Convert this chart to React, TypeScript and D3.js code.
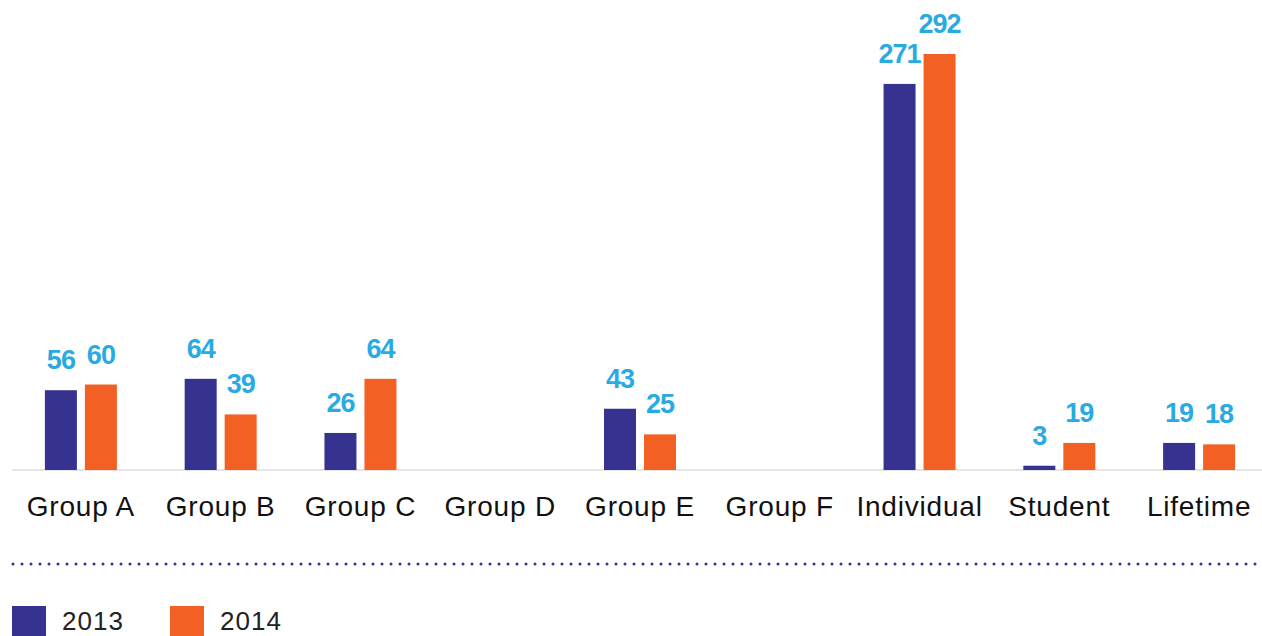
import React from 'react';
import * as d3 from 'd3';

const categories = ['Group A', 'Group B', 'Group C', 'Group D', 'Group E', 'Group F', 'Individual', 'Student', 'Lifetime'];
const years = ['2013', '2014'];
const values2013: (number | null)[] = [56, 64, 26, null, 43, null, 271, 3, 19];
const values2014: (number | null)[] = [60, 39, 64, null, 25, null, 292, 19, 18];

const colors = ['#35338f', '#f26024'];
const labelColor = '#29abe2';

const width = 1262;
const height = 636;
const baseY = 470;

const App = () => {
  const x = d3.scaleBand<string>().domain(categories).range([11, 1269]);
  const xInner = d3.scaleBand<string>()
    .domain(years)
    .range([x.bandwidth() / 2 - 36, x.bandwidth() / 2 + 36])
    .paddingInner(0.2);
  const y = d3.scaleLinear().domain([0, 292]).range([baseY, 54]);

  const series = [values2013, values2014];

  return (
    <div style={{ position: 'absolute', left: 0, top: 0 }}>
      <svg width={width} height={height} style={{ display: 'block', fontFamily: '"Liberation Sans", Arial, sans-serif' }}>
        {/* baseline */}
        <line x1={12} x2={width} y1={baseY} y2={baseY} stroke="#dcdcdc" strokeWidth={1.5} />

        {categories.map((cat, i) => (
          <g key={cat} transform={`translate(${x(cat)},0)`}>
            {series.map((vals, s) => {
              const v = vals[i];
              if (v == null) return null;
              const bx = xInner(years[s])!;
              return (
                <g key={s}>
                  <rect x={bx} y={y(v)} width={xInner.bandwidth()} height={baseY - y(v)} fill={colors[s]} />
                  <text
                    x={bx + xInner.bandwidth() / 2}
                    y={y(v) - 21}
                    textAnchor="middle"
                    fill={labelColor}
                    fontWeight="bold"
                    fontSize={27}
                    letterSpacing={-1}
                  >
                    {v}
                  </text>
                </g>
              );
            })}
            <text x={x.bandwidth() / 2} y={516} textAnchor="middle" fontSize={28} letterSpacing={0.8} fill="#111">
              {cat}
            </text>
          </g>
        ))}

        {/* dotted separator */}
        <line x1={13} x2={width} y1={564} y2={564} stroke="#35338f" strokeWidth={3} strokeDasharray="0 9" strokeLinecap="round" />

        {/* legend */}
        {years.map((yr, s) => (
          <g key={yr} transform={`translate(${12 + s * 158},606)`}>
            <rect width={34} height={34} fill={colors[s]} />
            <text x={50} y={24} fontSize={26} letterSpacing={1} fill="#222">{yr}</text>
          </g>
        ))}
      </svg>
    </div>
  );
};

export default App;
